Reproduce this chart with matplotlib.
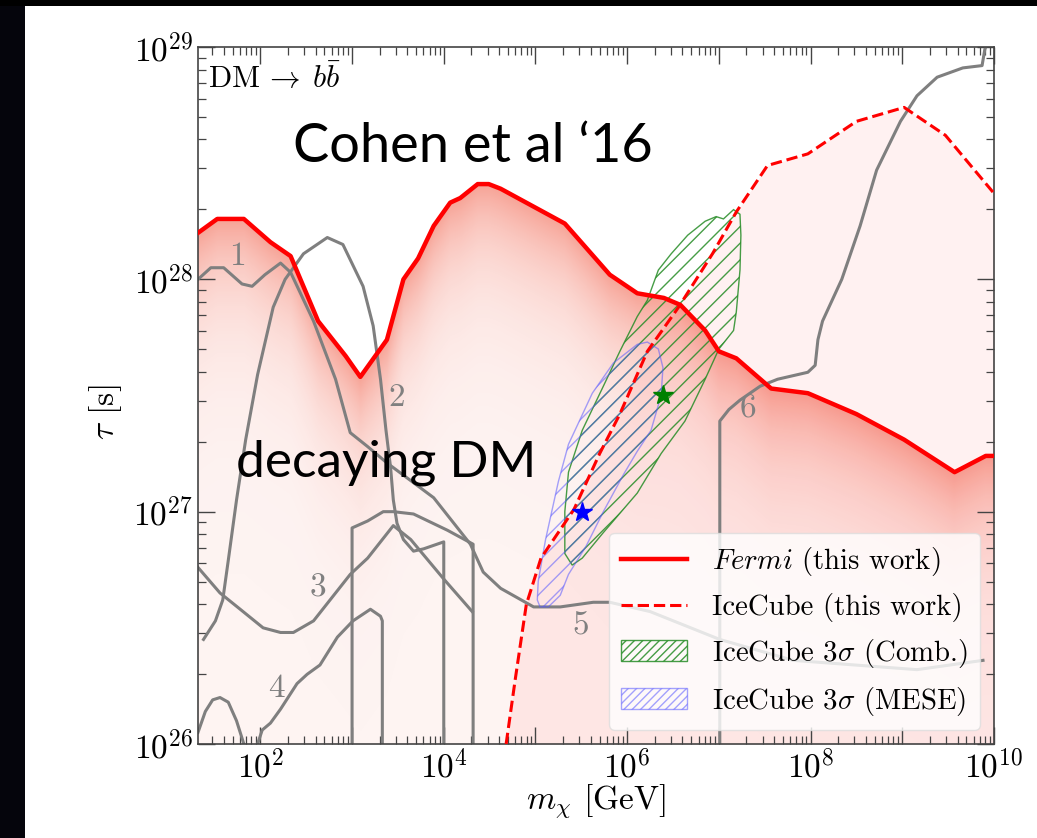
import numpy as np
import matplotlib
matplotlib.use("Agg")
import matplotlib.pyplot as plt
from matplotlib.patches import Polygon, Patch, Rectangle
from matplotlib.lines import Line2D
from matplotlib.ticker import FixedLocator, FuncFormatter, NullFormatter

plt.rcParams.update({
    "font.family": "serif",
    "font.serif": ["cmr10"],
    "mathtext.fontset": "cm",
    "axes.unicode_minus": False,
    "axes.formatter.use_mathtext": True,
    "hatch.linewidth": 1.0,
})

# ---------------- data (log10 of m_chi [GeV] and log10 of tau [s]) ----------------
fermi_logm = [1.32, 1.53, 1.82, 2.11, 2.33, 2.63, 2.93, 3.09, 3.38, 3.56, 3.72, 3.89,
              4.07, 4.18, 4.37, 4.49, 4.62, 5.32, 5.81, 6.11, 6.40, 6.58, 6.85, 7.00,
              7.19, 7.57, 7.97, 8.50, 9.02, 9.57, 9.91, 10.0]
fermi_logtau = [28.20, 28.26, 28.26, 28.16, 28.10, 27.82, 27.67, 27.58, 27.74, 28.00,
                28.09, 28.23, 28.33, 28.35, 28.41, 28.41, 28.39, 28.24, 28.02, 27.94,
                27.92, 27.89, 27.78, 27.69, 27.66, 27.53, 27.51, 27.42, 27.31, 27.17,
                27.24, 27.24]

ice_logm = [4.68, 4.78, 4.90, 5.06, 5.42, 5.70, 5.92, 6.22, 6.56, 6.93, 7.19, 7.53,
            7.97, 8.50, 9.02, 9.47, 10.0]
ice_logtau = [26.00, 26.28, 26.60, 26.80, 27.01, 27.25, 27.42, 27.69, 27.88, 28.11,
              28.29, 28.49, 28.54, 28.68, 28.74, 28.62, 28.37]

comb_logm = [5.32, 5.32, 5.36, 5.51, 5.74, 5.92, 6.11, 6.22, 6.34, 6.48, 6.66, 6.85,
             6.97, 7.05, 7.16, 7.23, 7.24, 7.23, 7.19, 7.16, 7.00, 6.85, 6.63, 6.37,
             6.11, 5.74, 5.51, 5.40]
comb_logtau = [26.82, 27.00, 27.17, 27.35, 27.54, 27.69, 27.84, 27.91, 28.04, 28.11,
               28.19, 28.25, 28.27, 28.26, 28.30, 28.28, 28.19, 28.04, 27.86, 27.78,
               27.70, 27.57, 27.39, 27.25, 27.08, 26.91, 26.80, 26.77]

mese_logm = [5.02, 5.03, 5.11, 5.25, 5.36, 5.62, 5.85, 6.11, 6.22, 6.34, 6.39, 6.37,
             6.26, 6.11, 5.96, 5.74, 5.55, 5.36, 5.27, 5.14, 5.05]
mese_logtau = [26.62, 26.70, 26.88, 27.13, 27.29, 27.51, 27.64, 27.72, 27.73, 27.70,
               27.62, 27.50, 27.35, 27.26, 27.16, 27.00, 26.85, 26.73, 26.64, 26.59,
               26.59]

star_comb = (6.39, 27.50)
star_mese = (5.51, 27.00)

# gray literature constraints
c1_logm = [1.32, 1.46, 1.60, 1.80, 1.91, 2.05, 2.22, 2.33, 2.58, 2.82, 2.98, 3.17,
           3.38, 3.89, 4.29, 4.43, 4.62, 4.80, 4.98, 5.27, 5.63, 5.81, 6.25, 7.01,
           7.81, 9.16, 9.88]
c1_logtau = [28.00, 28.05, 28.05, 27.98, 27.97, 28.02, 28.07, 28.03, 27.82, 27.57,
             27.34, 27.28, 27.21, 27.06, 26.86, 26.74, 26.67, 26.63, 26.59, 26.59,
             26.61, 26.61, 26.57, 26.45, 26.36, 26.32, 26.36]

c2_logm = [1.38, 1.51, 1.59, 1.65, 1.74, 1.84, 1.97, 2.14, 2.27, 2.47, 2.73, 2.90,
           3.12, 3.23, 3.31, 3.37, 3.42, 3.45, 3.49, 3.56, 3.67, 3.78, 4.00, 4.00]
c2_logtau = [26.45, 26.53, 26.62, 26.79, 27.05, 27.31, 27.59, 27.88, 28.00, 28.11,
             28.18, 28.15, 27.97, 27.80, 27.57, 27.35, 27.19, 27.05, 26.95, 26.88,
             26.83, 26.84, 26.87, 26.00]

c3_logm = [1.32, 1.56, 1.78, 2.03, 2.22, 2.36, 2.58, 2.84, 2.98, 3.17, 3.45, 3.64,
           4.00, 4.31]
c3_logtau = [26.76, 26.65, 26.58, 26.50, 26.48, 26.48, 26.53, 26.66, 26.73, 26.80,
             26.94, 26.88, 26.71, 26.57]

box_logm = [3.00, 3.00, 3.17, 3.34, 3.45, 3.67, 4.04, 4.32, 4.32]
box_logtau = [26.00, 26.93, 26.96, 27.00, 27.00, 26.99, 26.92, 26.86, 26.00]

c4_logm = [1.97, 2.02, 2.11, 2.22, 2.40, 2.51, 2.65, 2.84, 3.01, 3.20, 3.31, 3.33, 3.33]
c4_logtau = [26.00, 26.06, 26.09, 26.15, 26.26, 26.30, 26.34, 26.46, 26.53, 26.58,
             26.55, 26.53, 26.00]

c4b_logm = [1.32, 1.40, 1.48, 1.56, 1.65, 1.74, 1.82]
c4b_logtau = [26.05, 26.14, 26.19, 26.20, 26.18, 26.10, 26.00]

c6_logm = [7.01, 7.01, 7.11, 7.23, 7.45, 7.64, 7.97, 8.05, 8.08, 8.13, 8.34, 8.54,
           8.72, 8.98, 9.16, 9.38, 9.66, 9.87, 9.90, 9.91]
c6_logtau = [26.00, 27.39, 27.44, 27.48, 27.54, 27.57, 27.60, 27.63, 27.74, 27.82,
             28.00, 28.23, 28.47, 28.68, 28.79, 28.87, 28.91, 28.92, 28.99, 29.00]

curve_labels = ["1", "2", "3", "4", "5", "6"]
label_logm = [1.75, 3.49, 2.63, 2.18, 5.49, 7.32]
label_logtau = [28.10, 27.49, 26.67, 26.24, 26.51, 27.44]

legend_labels = [r"$Fermi$ (this work)", "IceCube (this work)",
                 r"IceCube 3$\sigma$ (Comb.)", r"IceCube 3$\sigma$ (MESE)"]

XMIN_LOG, XMAX_LOG = 1.32, 10.0
YMIN_LOG, YMAX_LOG = 26.0, 29.0

def p(lm, lt):
    return 10.0 ** np.asarray(lm), 10.0 ** np.asarray(lt)

# ---------------- figure ----------------
fig = plt.figure(figsize=(10.37, 8.38), dpi=100)
fig.patch.set_facecolor("white")
# slide borders (black on the left and the top)
fig.add_artist(Rectangle((0, 0), 25 / 1037, 1, transform=fig.transFigure,
                         facecolor="#05050c", edgecolor="none", zorder=-5))
fig.add_artist(Rectangle((0, 1 - 6 / 838), 1, 6 / 838, transform=fig.transFigure,
                         facecolor="black", edgecolor="none", zorder=-5))

ax = fig.add_axes([198 / 1037, 1 - 744 / 838, 796 / 1037, 697 / 838])
ax.set_xscale("log")
ax.set_yscale("log")

# gradient fill under the Fermi limit
nx, ny = 900, 800
u = np.linspace(0, 1, nx)
v = np.linspace(0, 1, ny)
lm = XMIN_LOG + u * (XMAX_LOG - XMIN_LOG)
lt = YMIN_LOG + v * (YMAX_LOG - YMIN_LOG)
curve = np.interp(lm, fermi_logm, fermi_logtau)
d = np.clip(curve[None, :] - lt[:, None], 0, None)
alpha = 0.06 + 0.45 * np.exp(-d / 0.3)
rgba = np.zeros((ny, nx, 4))
rgba[..., 0] = 0.94
rgba[..., 1] = 0.28
rgba[..., 2] = 0.18
rgba[..., 3] = alpha
im = ax.imshow(rgba, extent=(0, 1, 0, 1), transform=ax.transAxes, origin="lower",
               aspect="auto", interpolation="bilinear", zorder=0.5)
fx, fy = p(fermi_logm, fermi_logtau)
clip_verts = list(zip(fx, fy)) + [(10 ** XMAX_LOG, 10 ** YMIN_LOG),
                                  (10 ** XMIN_LOG, 10 ** YMIN_LOG)]
clip_poly = Polygon(clip_verts, closed=True, transform=ax.transData,
                    facecolor="none", edgecolor="none")
im.set_clip_path(clip_poly)

# IceCube excluded region (light pink)
ix, iy = p(ice_logm, ice_logtau)
ax.fill_between(ix, 10 ** YMIN_LOG, iy, color="red", alpha=0.055, lw=0, zorder=0.6)

# gray curves
gray_kw = dict(color="#7f7f7f", lw=2.2, zorder=2, solid_joinstyle="round")
for cm_, ct_ in [(c1_logm, c1_logtau), (c2_logm, c2_logtau), (c3_logm, c3_logtau),
                 (box_logm, box_logtau), (c4_logm, c4_logtau),
                 (c4b_logm, c4b_logtau), (c6_logm, c6_logtau)]:
    gx, gy = p(cm_, ct_)
    ax.plot(gx, gy, **gray_kw)
for lab, a, b in zip(curve_labels, label_logm, label_logtau):
    ax.text(10 ** a, 10 ** b, lab, color="#808080", fontsize=24,
            ha="center", va="center", zorder=2.5)

# hatched IceCube regions
green_ec = (0.15, 0.55, 0.15, 0.85)
blue_ec = (0.35, 0.35, 1.0, 0.55)
gx, gy = p(comb_logm, comb_logtau)
ax.add_patch(Polygon(list(zip(gx, gy)), closed=True, facecolor="none",
                     edgecolor=green_ec, hatch="//", lw=1.0, zorder=3))
bx, by = p(mese_logm, mese_logtau)
ax.add_patch(Polygon(list(zip(bx, by)), closed=True, facecolor="none",
                     edgecolor=blue_ec, hatch="//", lw=1.0, zorder=3))

# limits
ax.plot(fx, fy, color="red", lw=3.2, zorder=4)
ax.plot(ix, iy, color="red", lw=2.2, ls="--", zorder=4)

ax.plot(10 ** star_comb[0], 10 ** star_comb[1], marker="*", color="green",
        ms=15, mec="green", zorder=5)
ax.plot(10 ** star_mese[0], 10 ** star_mese[1], marker="*", color="blue",
        ms=15, mec="blue", zorder=5)

# axes settings
ax.set_xlim(10 ** XMIN_LOG, 10 ** XMAX_LOG)
ax.set_ylim(10 ** YMIN_LOG, 10 ** YMAX_LOG)

xmaj = [10.0 ** k for k in range(2, 11)]
xmin_ = [j * 10.0 ** k for k in range(1, 10) for j in range(2, 10)]
ax.xaxis.set_major_locator(FixedLocator(xmaj))
ax.xaxis.set_minor_locator(FixedLocator(xmin_))
ax.xaxis.set_major_formatter(FuncFormatter(
    lambda val, pos: (r"$10^{%d}$" % round(np.log10(val))) if round(np.log10(val)) % 2 == 0 else ""))
ax.xaxis.set_minor_formatter(NullFormatter())
ymaj = [10.0 ** k for k in range(26, 30)]
ymin_ = [j * 10.0 ** k for k in range(26, 29) for j in range(2, 10)]
ax.yaxis.set_major_locator(FixedLocator(ymaj))
ax.yaxis.set_minor_locator(FixedLocator(ymin_))
ax.yaxis.set_major_formatter(FuncFormatter(lambda val, pos: r"$10^{%d}$" % round(np.log10(val))))
ax.yaxis.set_minor_formatter(NullFormatter())

ax.tick_params(which="both", direction="in", top=True, right=True,
               color="#444444", labelsize=24)
ax.tick_params(which="major", length=12, width=1.0)
ax.tick_params(which="minor", length=6, width=0.9)
for s in ax.spines.values():
    s.set_color("#444444")
    s.set_linewidth(1.2)

ax.set_xlabel(r"$m_\chi$ [GeV]", fontsize=24)
ax.set_ylabel(r"$\tau$ [s]", fontsize=24)
ax.xaxis.set_label_coords(0.5, -0.055)
ax.yaxis.set_label_coords(-0.093, 0.476)

ax.text(0.012, 0.978, r"$\mathrm{DM}\,\rightarrow\;b\bar{b}$", transform=ax.transAxes,
        fontsize=22, ha="left", va="top", zorder=6)

handles = [Line2D([], [], color="red", lw=3.2),
           Line2D([], [], color="red", lw=2.2, ls="--"),
           Patch(facecolor="none", edgecolor=green_ec, hatch="////"),
           Patch(facecolor="none", edgecolor=blue_ec, hatch="////")]
leg = ax.legend(handles, legend_labels, loc="lower right", fontsize=20.7,
                framealpha=0.8, edgecolor="#dddddd", fancybox=True,
                handlelength=2.3, handletextpad=0.85, labelspacing=0.52,
                borderpad=0.42)
leg.set_zorder(10)

fig.text(293 / 1037, 1 - 162 / 838, "Cohen et al \u201816", family="Lato",
         fontsize=39, color="black", ha="left", va="baseline")
fig.text(236 / 1037, 1 - 476 / 838, "decaying DM", family="Lato",
         fontsize=37, color="black", ha="left", va="baseline", zorder=20)

fig.savefig("out.png", dpi=100, facecolor=fig.get_facecolor())
